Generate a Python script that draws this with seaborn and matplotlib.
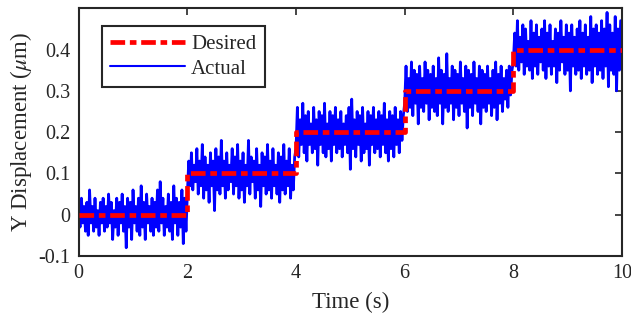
import numpy as np
import pandas as pd
import matplotlib
matplotlib.use("Agg")
import matplotlib.pyplot as plt
import seaborn as sns

# ---- data ----
step_times = [0, 2, 2, 4, 4, 6, 6, 8, 8, 10]
step_values = [0, 0, 0.1, 0.1, 0.2, 0.2, 0.3, 0.3, 0.4, 0.4]

sample_dt = 0.025

actual_seg0 = [0.01,-0.03, 0.04,-0.02, 0.02,-0.04, 0.03,-0.05, 0.06,-0.02, 0.02,-0.04, 0.04,-0.03, 0.01,-0.05, 0.03,-0.02, 0.04,-0.04,
               0.02,-0.03, 0.05,-0.02, 0.03,-0.06, 0.01,-0.03, 0.04,-0.05, 0.03,-0.02, 0.05,-0.04, 0.02,-0.08, 0.04,-0.03, 0.03,-0.06,
               0.06,-0.02, 0.02,-0.04, 0.04,-0.05, 0.07,-0.03, 0.03,-0.06, 0.05,-0.02, 0.02,-0.04, 0.04,-0.05, 0.03,-0.03, 0.06,-0.04,
               0.08,-0.02, 0.04,-0.05, 0.02,-0.03, 0.05,-0.04, 0.03,-0.06, 0.07,-0.02, 0.04,-0.05, 0.03,-0.03, 0.06,-0.07, 0.04,-0.04]
actual_seg1 = [0.05,0.13, 0.07,0.15, 0.06,0.12, 0.08,0.16, 0.05,0.13, 0.07,0.17, 0.04,0.14, 0.06,0.12, 0.03,0.15, 0.07,0.13,
               0.01,0.16, 0.06,0.14, 0.05,0.18, 0.07,0.13, 0.04,0.15, 0.06,0.12, 0.08,0.16, 0.05,0.14, 0.07,0.17, 0.04,0.13,
               0.06,0.15, 0.03,0.12, 0.07,0.18, 0.05,0.14, 0.08,0.13, 0.04,0.16, 0.06,0.12, 0.02,0.15, 0.07,0.14, 0.05,0.17,
               0.06,0.13, 0.04,0.16, 0.07,0.12, 0.05,0.15, 0.03,0.14, 0.06,0.17, 0.05,0.13, 0.07,0.16, 0.04,0.12, 0.06,0.14]
actual_seg2 = [0.16,0.26, 0.14,0.23, 0.17,0.27, 0.15,0.24, 0.13,0.25, 0.17,0.22, 0.15,0.26, 0.16,0.23, 0.12,0.25, 0.17,0.24,
               0.15,0.27, 0.14,0.22, 0.16,0.25, 0.13,0.24, 0.17,0.26, 0.15,0.23, 0.16,0.25, 0.14,0.22, 0.17,0.24, 0.15,0.26,
               0.11,0.28, 0.16,0.23, 0.14,0.25, 0.17,0.24, 0.13,0.26, 0.15,0.22, 0.16,0.25, 0.12,0.24, 0.17,0.26, 0.15,0.23,
               0.16,0.25, 0.14,0.24, 0.17,0.27, 0.15,0.23, 0.13,0.25, 0.16,0.24, 0.14,0.26, 0.17,0.23, 0.15,0.25, 0.18,0.24]
actual_seg3 = [0.27,0.36, 0.25,0.33, 0.26,0.37, 0.24,0.35, 0.27,0.34, 0.22,0.36, 0.26,0.33, 0.25,0.37, 0.27,0.35, 0.23,0.34,
               0.26,0.36, 0.25,0.33, 0.24,0.38, 0.27,0.35, 0.22,0.34, 0.26,0.39, 0.25,0.33, 0.27,0.36, 0.23,0.35, 0.26,0.34,
               0.24,0.37, 0.27,0.33, 0.25,0.36, 0.21,0.35, 0.26,0.34, 0.24,0.37, 0.27,0.33, 0.25,0.36, 0.22,0.35, 0.26,0.34,
               0.25,0.36, 0.27,0.33, 0.24,0.35, 0.26,0.37, 0.23,0.34, 0.27,0.36, 0.25,0.33, 0.28,0.35, 0.26,0.36, 0.29,0.35]
actual_seg4 = [0.37,0.44, 0.36,0.47, 0.35,0.43, 0.37,0.46, 0.34,0.45, 0.36,0.42, 0.35,0.47, 0.33,0.44, 0.36,0.46, 0.34,0.43,
               0.37,0.45, 0.35,0.47, 0.33,0.44, 0.36,0.46, 0.34,0.42, 0.36,0.45, 0.32,0.44, 0.35,0.47, 0.37,0.43, 0.34,0.46,
               0.35,0.44, 0.30,0.46, 0.36,0.43, 0.34,0.45, 0.35,0.47, 0.33,0.44, 0.36,0.46, 0.34,0.43, 0.35,0.48, 0.32,0.45,
               0.36,0.46, 0.34,0.44, 0.35,0.47, 0.33,0.45, 0.36,0.49, 0.31,0.46, 0.35,0.44, 0.34,0.48, 0.30,0.45, 0.35,0.47]

x_ticks = [0, 2, 4, 6, 8, 10]
y_ticks = [-0.1, 0, 0.1, 0.2, 0.3, 0.4]
y_tick_labels = ["-0.1", "0", "0.1", "0.2", "0.3", "0.4"]

actual_values = actual_seg0 + actual_seg1 + actual_seg2 + actual_seg3 + actual_seg4
actual_times = np.arange(len(actual_values)) * sample_dt

# ---- style ----
sns.set_theme(style="white")
plt.rcParams["font.family"] = ["Liberation Serif", "DejaVu Serif"]
plt.rcParams["mathtext.fontset"] = "stix"

fig = plt.figure(figsize=(6.31, 3.23), dpi=100)
ax = fig.add_axes([78.7 / 631, 1 - 256 / 323, (622 - 78.7) / 631, (256 - 8.3) / 323])

df_actual = pd.DataFrame({"t": actual_times, "y": actual_values})
df_desired = pd.DataFrame({"t": step_times, "y": step_values})

desired_dashes = [3.1, 1.0, 1.4, 1.0]

sns.lineplot(data=df_actual, x="t", y="y", ax=ax, color="#0000ff", lw=2.0,
             label="Actual", sort=False, estimator=None, zorder=2)
sns.lineplot(data=df_desired, x="t", y="y", ax=ax, color="#ff0000", lw=3.4,
             label="Desired", sort=False, estimator=None, zorder=3,
             dashes=False)
desired_line = ax.lines[-1]
desired_line.set_dashes(desired_dashes)

ax.set_xlim(0, 10)
ax.set_ylim(-0.1, 0.5)
ax.set_xticks(x_ticks)
ax.set_xticklabels([str(v) for v in x_ticks])
ax.set_yticks(y_ticks)
ax.set_yticklabels(y_tick_labels)
ax.tick_params(direction="in", length=5, width=1.2, top=True, right=True,
               labelsize=14.5, colors="#262626", pad=6)
for sp in ax.spines.values():
    sp.set_color("#262626")
    sp.set_linewidth(1.5)
ax.set_xlabel("Time (s)", fontsize=16.5, color="#262626", labelpad=6)
ax.set_ylabel(r"Y Displacement ($\mu$m)", fontsize=16.5, color="#262626", labelpad=3)

handles, labels = ax.get_legend_handles_labels()
order = [labels.index("Desired"), labels.index("Actual")]
leg = ax.legend([handles[i] for i in order], [labels[i] for i in order],
                loc="upper left", bbox_to_anchor=(0.042, 0.929), borderaxespad=0,
                fontsize=15, frameon=True, fancybox=False, handlelength=3.6,
                handletextpad=0.3, labelspacing=0.25, borderpad=0.4)
leg.get_frame().set_edgecolor("#262626")
leg.get_frame().set_linewidth(1.5)
leg.get_frame().set_alpha(1)
for lh in leg.get_lines():
    if lh.get_color() == "#ff0000":
        lh.set_dashes(desired_dashes)
    else:
        lh.set_linewidth(1.5)

fig.savefig("out.png", dpi=100)
